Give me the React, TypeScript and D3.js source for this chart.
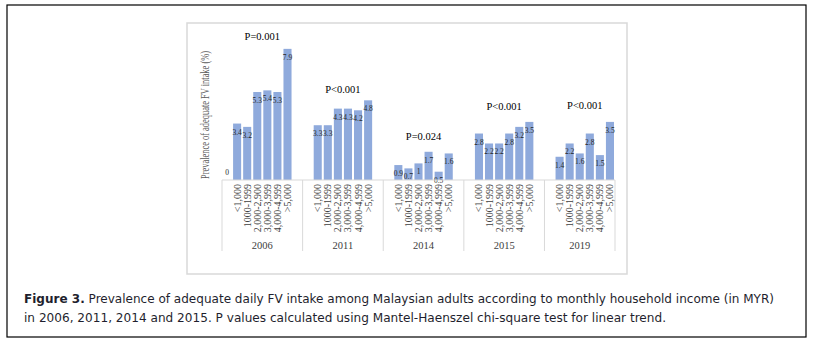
import React from "react";
import * as d3 from "d3";

const years = ["2006", "2011", "2014", "2015", "2019"];
const incomes = ["<1,000", "1000-1999", "2,000-2,900", "3,000-3,999", "4,000-4,999", ">5,000"];
const values2006 = [3.4, 3.2, 5.3, 5.4, 5.3, 7.9];
const values2011 = [3.3, 3.3, 4.3, 4.3, 4.2, 4.8];
const values2014 = [0.9, 0.7, 1, 1.7, 0.5, 1.6];
const values2015 = [2.8, 2.2, 2.2, 2.8, 3.2, 3.5];
const values2019 = [1.4, 2.2, 1.6, 2.8, 1.5, 3.5];
const leadingValues: (number | null)[] = [0, null, null, null, null];
const pLabels = ["P=0.001", "P<0.001", "P=0.024", "P<0.001", "P<0.001"];
const pLevels = [8.65, 5.45, 2.6, 4.45, 4.5];
const yTitle = "Prevalence of adequate FV intake (%)";
const captionBold = "Figure 3.";
const captionLine1 = " Prevalence of adequate daily FV intake among Malaysian adults according to monthly household income (in MYR)";
const captionLine2 = "in 2006, 2011, 2014 and 2015. P values calculated using Mantel-Haenszel chi-square test for linear trend.";

const seriesByYear = [values2006, values2011, values2014, values2015, values2019];

export default function App() {
  const W = 815, H = 342;
  const serif = "'Liberation Serif', 'Times New Roman', serif";
  const sans = "'DejaVu Sans', Verdana, sans-serif";

  const slots: { id: string; g: number; k: number }[] = [];
  years.forEach((yr, g) => {
    slots.push({ id: `${yr}-lead`, g, k: -1 });
    incomes.forEach((_, k) => slots.push({ id: `${yr}-${k}`, g, k }));
    if (g < years.length - 1) slots.push({ id: `${yr}-trail`, g, k: 6 });
  });

  const x = d3.scaleBand<string>().domain(slots.map(s => s.id)).range([222, 615]).paddingInner(0.2).paddingOuter(0.1);
  const y = d3.scaleLinear().domain([0, 8]).range([180, 180 - 8 * 16.6]);
  const step = x.step();
  const bw = x.bandwidth();
  const groupStart = (g: number) => (x(`${years[g]}-lead`) as number) - step * 0.1;
  const groupEnd = (g: number) => g < years.length - 1 ? groupStart(g + 1) : 615;
  const barsCenter = (g: number) => ((x(`${years[g]}-0`) as number) + (x(`${years[g]}-5`) as number) + bw) / 2;

  const axisColor = "#d9d9d9";
  const barColor = "#8FAADC";

  return (
    <svg width={W} height={H} style={{ position: "absolute", left: 0, top: 0 }}>
      <rect x={0} y={0} width={W} height={H} fill="#fff" />
      <rect x={7} y={5} width={799} height={332} fill="none" stroke="#000" strokeWidth={1.2} />
      <rect x={187} y={23} width={440} height={251} fill="#fff" stroke={axisColor} strokeWidth={1.5} />

      <text transform={`translate(205,115) rotate(-90)`} textAnchor="middle" dominantBaseline="central"
        fontFamily={serif} fontSize={11.5} fill="#595959" textLength={128} lengthAdjust="spacingAndGlyphs">{yTitle}</text>

      {seriesByYear.map((vals, g) => (
        <g key={years[g]}>
          {vals.map((v, k) => {
            const bx = x(`${years[g]}-${k}`) as number;
            return (
              <g key={k}>
                <rect x={bx} y={y(v)} width={bw} height={y(0) - y(v)} fill={barColor} />
                <text x={bx + bw / 2} y={y(v) + 11} textAnchor="middle" fontFamily={serif} fontSize={7.5} fill="#262626">{String(v)}</text>
              </g>
            );
          })}
          {leadingValues[g] !== null && (
            <text x={(x(`${years[g]}-lead`) as number) + bw / 2} y={y(leadingValues[g] as number) - 5} textAnchor="middle"
              fontFamily={serif} fontSize={7.5} fill="#262626">{String(leadingValues[g])}</text>
          )}
          <text x={barsCenter(g)} y={y(pLevels[g])} textAnchor="middle" dominantBaseline="central" fontFamily={serif} fontSize={10.5} fill="#000">{pLabels[g]}</text>
        </g>
      ))}

      <line x1={222} x2={615} y1={180} y2={180} stroke={axisColor} strokeWidth={1} />
      {years.map((yr, g) => (
        <line key={`d${g}`} x1={groupStart(g)} x2={groupStart(g)} y1={180} y2={251} stroke={axisColor} strokeWidth={1} />
      ))}
      <line x1={615} x2={615} y1={180} y2={251} stroke={axisColor} strokeWidth={1} />
      {years.map((yr, g) => (
        <g key={`l${g}`}>
          {incomes.map((inc, k) => {
            const cx = (x(`${yr}-${k}`) as number) + bw / 2;
            return (
              <text key={k} transform={`translate(${cx},184) rotate(-90)`} textAnchor="end" dominantBaseline="central"
                fontFamily={serif} fontSize={10} fill="#404040">{inc}</text>
            );
          })}
          <text x={(groupStart(g) + groupEnd(g)) / 2} y={249} textAnchor="middle" fontFamily={serif} fontSize={10.5} fill="#404040">{yr}</text>
        </g>
      ))}

      <text x={24} y={303} fontFamily={sans} fontSize={12.5} fill="#1f1f2e" textLength={750} lengthAdjust="spacingAndGlyphs">
        <tspan fontWeight="bold">{captionBold}</tspan>{captionLine1}
      </text>
      <text x={24} y={322} fontFamily={sans} fontSize={12.5} fill="#1f1f2e" textLength={642} lengthAdjust="spacingAndGlyphs">{captionLine2}</text>
    </svg>
  );
}
